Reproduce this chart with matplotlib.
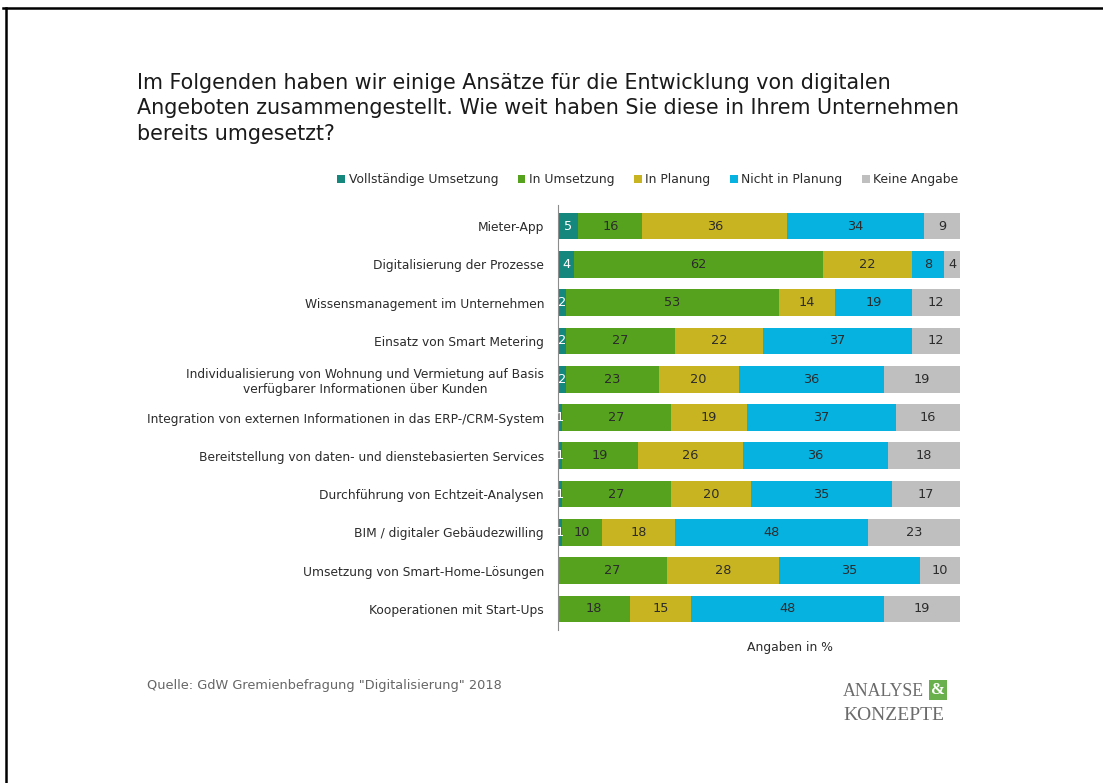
import matplotlib.pyplot as plt
import numpy as np

categories = [
    "Mieter-App",
    "Digitalisierung der Prozesse",
    "Wissensmanagement im Unternehmen",
    "Einsatz von Smart Metering",
    "Individualisierung von Wohnung und Vermietung auf Basis\nverfügbarer Informationen über Kunden",
    "Integration von externen Informationen in das ERP-/CRM-System",
    "Bereitstellung von daten- und dienstebasierten Services",
    "Durchführung von Echtzeit-Analysen",
    "BIM / digitaler Gebäudezwilling",
    "Umsetzung von Smart-Home-Lösungen",
    "Kooperationen mit Start-Ups",
]
series_names = ["Vollständige Umsetzung", "In Umsetzung", "In Planung", "Nicht in Planung", "Keine Angabe"]
vollstaendig = [5, 4, 2, 2, 2, 1, 1, 1, 1, 0, 0]
in_umsetzung = [16, 62, 53, 27, 23, 27, 19, 27, 10, 27, 18]
in_planung = [36, 22, 14, 22, 20, 19, 26, 20, 18, 28, 15]
nicht_in_planung = [34, 8, 19, 37, 36, 37, 36, 35, 48, 35, 48]
keine_angabe = [9, 4, 12, 12, 19, 16, 18, 17, 23, 10, 19]

colors = ["#15877c", "#56a21e", "#c8b421", "#05b2e0", "#bfbfbf"]
label_colors = ["white", "#2b2b2b", "#2b2b2b", "#2b2b2b", "#2b2b2b"]

fig = plt.figure(figsize=(11.03, 7.83), dpi=100)
W, H = 1103, 783

# frame lines (top and left only)
fig.add_artist(plt.Line2D([3 / W, 1], [1 - 8 / H, 1 - 8 / H], color="black", lw=1.8))
fig.add_artist(plt.Line2D([6 / W, 6 / W], [0, 1 - 8 / H], color="black", lw=1.8))

ax = fig.add_axes([558 / W, (H - 630) / H, 402 / W, 425 / H])

y = np.arange(len(categories))
data = [vollstaendig, in_umsetzung, in_planung, nicht_in_planung, keine_angabe]
left = np.zeros(len(categories))
handles = []
for vals, name, c, tc in zip(data, series_names, colors, label_colors):
    vals = np.array(vals)
    b = ax.barh(y, vals, left=left, height=0.7, color=c, label=name)
    handles.append(b)
    for yi, (l, v) in enumerate(zip(left, vals)):
        if v > 0:
            ax.text(l + v / 2, yi, str(v), ha="center", va="center", fontsize=9.3, color=tc)
    left += vals

ax.set_xlim(0, 100)
ax.set_ylim(len(categories) - 0.45, -0.55)
ax.set_yticks(y)
ax.set_yticklabels(categories, fontsize=8.8, color="#2b2b2b", ha="right", multialignment="center")
ax.tick_params(axis="y", length=0, pad=10)
ax.set_xticks([])
for s in ["top", "right", "bottom"]:
    ax.spines[s].set_visible(False)
ax.spines["left"].set_color("#8c8c8c")

fig.legend(handles=handles, loc="center", bbox_to_anchor=(648 / W, 1 - 180 / H), ncol=5,
           frameon=False, fontsize=8.9, handlelength=0.6, handleheight=0.6,
           handletextpad=0.3, columnspacing=1.6, labelcolor="#2b2b2b")

title = ("Im Folgenden haben wir einige Ansätze für die Entwicklung von digitalen\n"
         "Angeboten zusammengestellt. Wie weit haben Sie diese in Ihrem Unternehmen\n"
         "bereits umgesetzt?")
fig.text(137 / W, 1 - 73 / H, title, fontsize=14.9, color="#1a1a1a", va="top", ha="left", linespacing=1.33)

fig.text(790 / W, 1 - 647 / H, "Angaben in %", fontsize=8.9, color="#2b2b2b", ha="center", va="center")
fig.text(147 / W, 1 - 686 / H, 'Quelle: GdW Gremienbefragung "Digitalisierung" 2018', fontsize=9.3,
         color="#666666", ha="left", va="center")

# logo
fig.text(843 / W, 1 - 691 / H, "ANALYSE", fontsize=12.8, family="Liberation Serif", color="#6b6b6b",
         ha="left", va="center")
fig.text(938 / W, 1 - 690 / H, "&", fontsize=12, family="Liberation Serif", color="white",
         ha="center", va="center", fontweight="bold",
         bbox=dict(boxstyle="square,pad=0.1", facecolor="#6ab04c", edgecolor="none"))
fig.text(843 / W, 1 - 715 / H, "KONZEPTE", fontsize=14, family="Liberation Serif", color="#6b6b6b",
         ha="left", va="center")

fig.savefig("out.png", dpi=100)
plt.close(fig)
